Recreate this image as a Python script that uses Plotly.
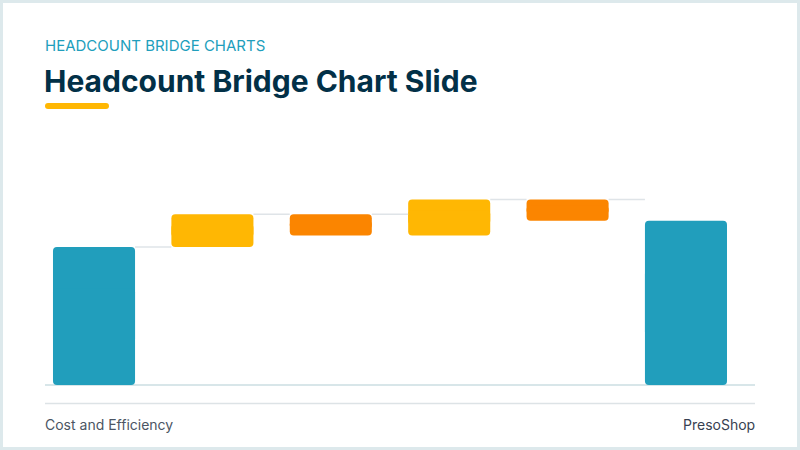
import plotly.graph_objects as go

# %% data
steps = ["Opening Headcount", "New Hires", "Attrition", "Transfers In", "Transfers Out", "Closing Headcount"]
kinds = ["total", "increase", "decrease", "increase", "decrease", "total"]
values = [420, 100, -65, 110, -65, 500]

colors = {"total": "#219EBC", "increase": "#FFB703", "decrease": "#FB8500"}

# plot area in pixels (800x450 slide)
W, H = 800, 450
L, R, T, B = 45, 45, 135, 65
Y_MAX = 761
BAR_W = 0.693
X_RANGE = [-0.414, 5.583]


def px(x, y):
    # pixel -> paper coordinates
    return (x - L) / (W - L - R), (H - B - y) / (H - T - B)


# floating bar spans
lows, highs = [], []
running = 0
for kind, v in zip(kinds, values):
    if kind == "total":
        lo, hi = 0, v
        running = v
    else:
        lo, hi = sorted([running, running + v])
        running += v
    lows.append(lo)
    highs.append(hi)

fig = go.Figure()

# connectors: top of each bar over to the next bar
cx, cy = [], []
for i in range(len(steps) - 1):
    cx += [i + BAR_W / 2, i + 1 - BAR_W / 2, None]
    cy += [highs[i], highs[i], None]
fig.add_trace(go.Scatter(x=cx, y=cy, mode="lines", line=dict(color="#dfe4e8", width=1.5),
                         hoverinfo="skip", showlegend=False))

# each bar drawn as two overlapping halves so both ends get rounded corners
xs = list(range(len(steps)))
bar_colors = [colors[k] for k in kinds]
spans = [h - l for l, h in zip(lows, highs)]
fig.add_trace(go.Bar(
    x=xs, y=[s * 0.7 for s in spans], base=[l + s * 0.3 for l, s in zip(lows, spans)],
    width=BAR_W, marker=dict(color=bar_colors, cornerradius=4, line=dict(width=0)),
    customdata=values, hovertext=steps, hovertemplate="%{hovertext}: %{customdata}<extra></extra>",
    showlegend=False))
fig.add_trace(go.Bar(
    x=xs, y=[-s * 0.7 for s in spans], base=[h - s * 0.3 for h, s in zip(highs, spans)],
    width=BAR_W, marker=dict(color=bar_colors, cornerradius=4, line=dict(width=0)),
    hoverinfo="skip", showlegend=False))

# slide decoration
shapes = []
x0, y0 = px(3, 3)
x1, y1 = px(797, 447)
shapes.append(dict(type="rect", xref="paper", yref="paper", x0=x0, y0=y0, x1=x1, y1=y1,
                   fillcolor="white", line=dict(width=0), layer="below"))

# yellow accent under title (rounded ends)
ax0, ax1, ay0, ay1, r = 45, 109, 103, 109, 3
pts = [
    ("M", ax0 + r, ay0), ("L", ax1 - r, ay0), ("Q", ax1, ay0, ax1, ay0 + r),
    ("L", ax1, ay1 - r), ("Q", ax1, ay1, ax1 - r, ay1), ("L", ax0 + r, ay1),
    ("Q", ax0, ay1, ax0, ay1 - r), ("L", ax0, ay0 + r), ("Q", ax0, ay0, ax0 + r, ay0),
]
path = ""
for p in pts:
    cmd, coords = p[0], p[1:]
    parts = []
    for j in range(0, len(coords), 2):
        qx, qy = px(coords[j], coords[j + 1])
        parts.append(f"{qx:.5f},{qy:.5f}")
    path += cmd + " ".join(parts) + " "
shapes.append(dict(type="path", xref="paper", yref="paper", path=path + "Z",
                   fillcolor="#FFB703", line=dict(width=0)))

# baseline and footer divider
bx0, by = px(45, 385)
bx1, _ = px(755, 385)
shapes.append(dict(type="line", xref="paper", yref="paper", x0=bx0, x1=bx1, y0=by, y1=by,
                   line=dict(color="#d8e6e9", width=2), layer="below"))
_, fy = px(0, 403.5)
shapes.append(dict(type="line", xref="paper", yref="paper", x0=bx0, x1=bx1, y0=fy, y1=fy,
                   line=dict(color="#dde3e6", width=1.5)))

font_family = "Inter, Open Sans, sans-serif"
annotations = []


def text(s, x, y, size, color, anchor="left"):
    ux, uy = px(x, y)
    annotations.append(dict(text=s, x=ux, y=uy, xref="paper", yref="paper", showarrow=False,
                            xanchor=anchor, yanchor="middle",
                            font=dict(family=font_family, size=size, color=color)))


text("HEADCOUNT BRIDGE CHARTS", 43, 46, 15, "#219EBC")
text("<b>Headcount Bridge Chart Slide</b>", 42, 81, 30, "#023047")
text("Cost and Efficiency", 43, 424, 14, "#4b5563")
text("PresoShop", 757, 424, 14, "#374151", anchor="right")

fig.update_layout(
    width=W, height=H,
    margin=dict(l=L, r=R, t=T, b=B),
    paper_bgcolor="#dde9ec",
    plot_bgcolor="white",
    barmode="overlay",
    showlegend=False,
    xaxis=dict(range=X_RANGE, showgrid=False, zeroline=False,
               showticklabels=False, fixedrange=True),
    yaxis=dict(range=[0, Y_MAX], showgrid=False, zeroline=False,
               showticklabels=False, fixedrange=True),
    shapes=shapes,
    annotations=annotations,
)

fig.write_html("out.html", config=dict(displayModeBar=False),
               post_script="document.body.style.margin='0';")
